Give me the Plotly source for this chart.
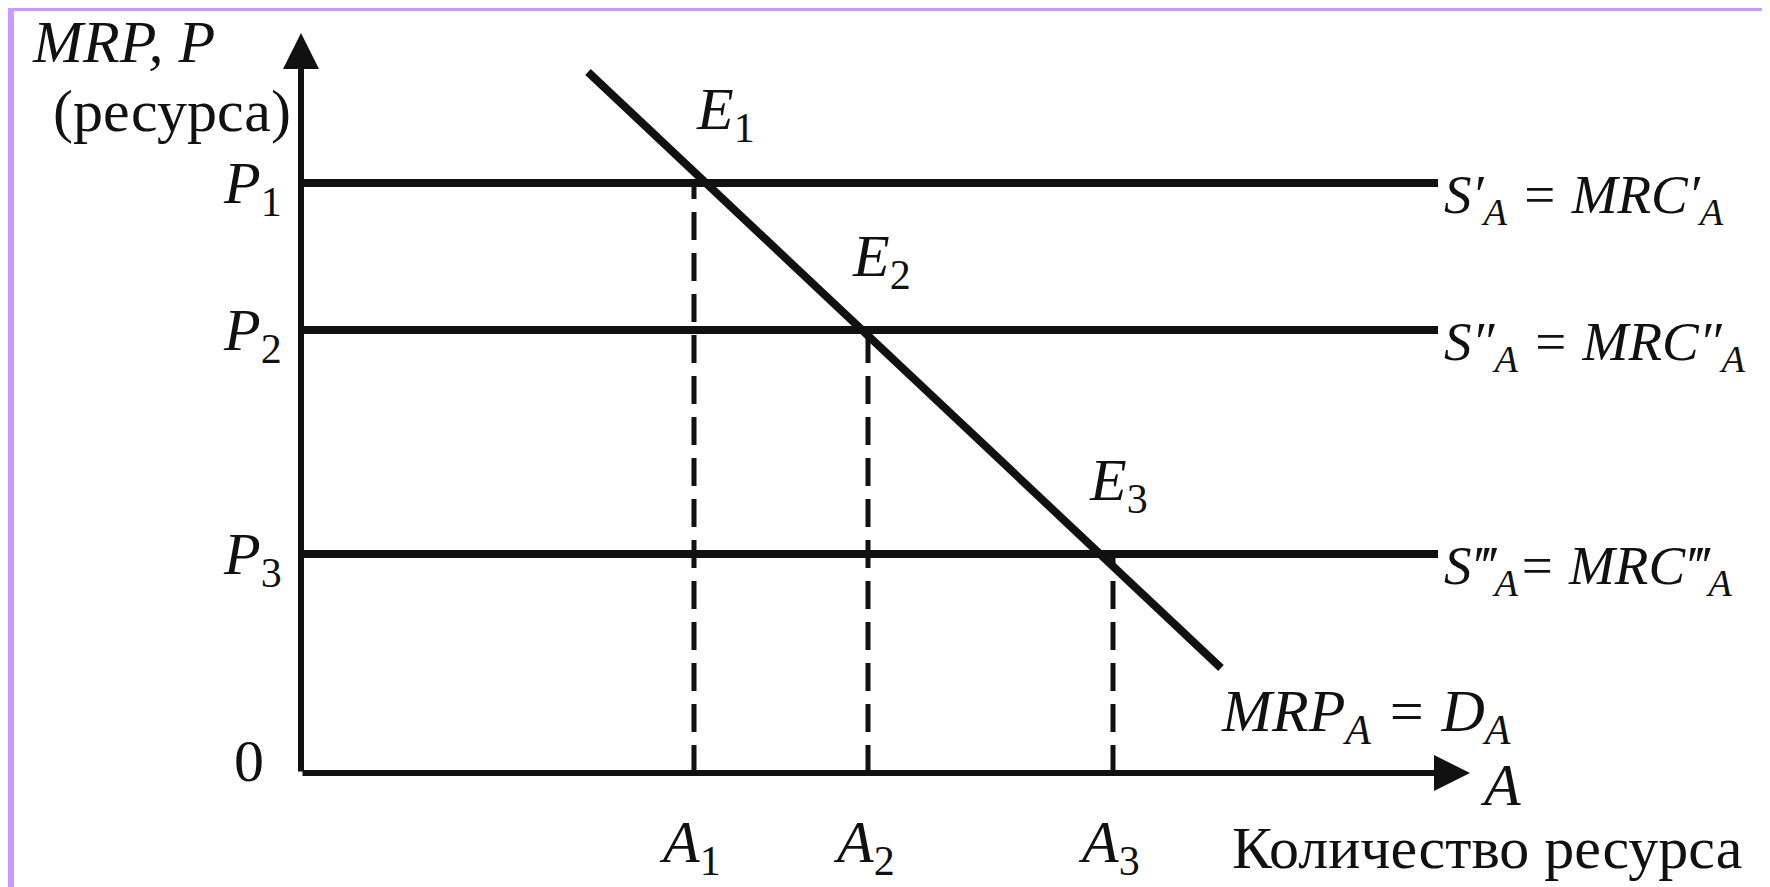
import plotly.graph_objects as go

# ---------------- data ----------------
resource_qty = [3.93, 5.67, 8.12]            # A1, A2, A3
resource_price = [5.90, 4.43, 2.19]          # P1, P2, P3
qty_labels = ["<i>A</i><sub>1</sub>", "<i>A</i><sub>2</sub>", "<i>A</i><sub>3</sub>"]
price_labels = ["<i>P</i><sub>1</sub>", "<i>P</i><sub>2</sub>", "<i>P</i><sub>3</sub>"]
eq_labels = ["<i>E</i><sub>1</sub>", "<i>E</i><sub>2</sub>", "<i>E</i><sub>3</sub>"]
supply_labels = [
    "<i>S′<sub>A</sub> = MRC′<sub>A</sub></i>",
    "<i>S″<sub>A</sub> = MRC″<sub>A</sub></i>",
    "<i>S‴<sub>A</sub>= MRC‴<sub>A</sub></i>",
]
demand_qty = [2.87, 9.20]
demand_price = [7.01, 1.05]
supply_qty_end = 11.37
x_axis_end = 11.69
y_axis_end = 7.40
y_title = "<i>MRP, P</i>"
y_subtitle = "(ресурса)"
x_title = "<i>A</i>"
x_subtitle = "Количество ресурса"
demand_label = "<i>MRP<sub>A</sub> = D<sub>A</sub></i>"

# ---------------- styling ----------------
FONT = "Liberation Serif, Times New Roman, serif"
FS = 60
FS_SUPPLY = 55
INK = "#111111"
EQ_LABEL_DX = [0, -18, -26]

fig = go.Figure()

# horizontal supply lines
for p in resource_price:
    fig.add_trace(go.Scatter(x=[0, supply_qty_end], y=[p, p], mode="lines",
                             line=dict(color=INK, width=8), hoverinfo="skip"))

# dashed drop lines
for a, p in zip(resource_qty, resource_price):
    fig.add_trace(go.Scatter(x=[a, a], y=[0, p], mode="lines",
                             line=dict(color=INK, width=5, dash="28px,13px"),
                             hoverinfo="skip"))

# demand line
fig.add_trace(go.Scatter(x=demand_qty, y=demand_price, mode="lines",
                         line=dict(color=INK, width=8), hoverinfo="skip"))

annotations = []
# axes with arrow heads
annotations.append(dict(x=x_axis_end, y=0, ax=0, ay=0, xref="x", yref="y",
                        axref="x", ayref="y", showarrow=True, arrowhead=2,
                        arrowsize=1.2, arrowwidth=6, arrowcolor=INK, text=""))
annotations.append(dict(x=0, y=y_axis_end, ax=0, ay=0, xref="x", yref="y",
                        axref="x", ayref="y", showarrow=True, arrowhead=2,
                        arrowsize=1.2, arrowwidth=6, arrowcolor=INK, text=""))

def txt(text, x, y, xanchor, yanchor, xshift=0, yshift=0, size=FS):
    annotations.append(dict(text=text, x=x, y=y, xref="x", yref="y",
                            showarrow=False, xanchor=xanchor, yanchor=yanchor,
                            xshift=xshift, yshift=yshift,
                            font=dict(family=FONT, size=size, color=INK)))

txt(y_title, 0, y_axis_end, "right", "middle", -84, -9)
txt(y_subtitle, 0, y_axis_end, "right", "middle", -8, -78)
for lab, p in zip(price_labels, resource_price):
    txt(lab, 0, p, "right", "middle", -17, -4)
txt("0", 0, 0, "right", "middle", -35, 12)
for lab, a, p, dx in zip(eq_labels, resource_qty, resource_price, EQ_LABEL_DX):
    txt(lab, a, p, "left", "bottom", dx, 30)
for lab, a in zip(qty_labels, resource_qty):
    txt(lab, a, 0, "center", "top", -4, -34)
txt(x_subtitle, x_axis_end, 0, "right", "top", 274, -40)
txt(x_title, x_axis_end, 0, "left", "middle", 8, -12)
txt(demand_label, demand_qty[1], demand_price[1], "left", "top", -2, -8)
for lab, p in zip(supply_labels, resource_price):
    txt(lab, supply_qty_end, p, "left", "middle", 4, -15, FS_SUPPLY)

# lavender frame strips of the original picture (left and top)
shapes = [
    dict(type="rect", xref="paper", yref="paper", x0=0, x1=6 / 1770, y0=0, y1=1,
         fillcolor="#CC99FF", line=dict(width=0)),
    dict(type="rect", xref="paper", yref="paper", x0=0, x1=1, y0=1 - 3 / 887, y1=1,
         fillcolor="#CC99FF", line=dict(width=0)),
]

fig.update_layout(
    width=1770, height=887,
    margin=dict(l=0, r=0, t=0, b=0),
    paper_bgcolor="white", plot_bgcolor="white",
    showlegend=False,
    xaxis=dict(range=[-2.93, 14.77], visible=False, fixedrange=True),
    yaxis=dict(range=[-1.22, 7.65], visible=False, fixedrange=True),
    annotations=annotations,
    shapes=shapes,
)

fig.write_html("out.html")
